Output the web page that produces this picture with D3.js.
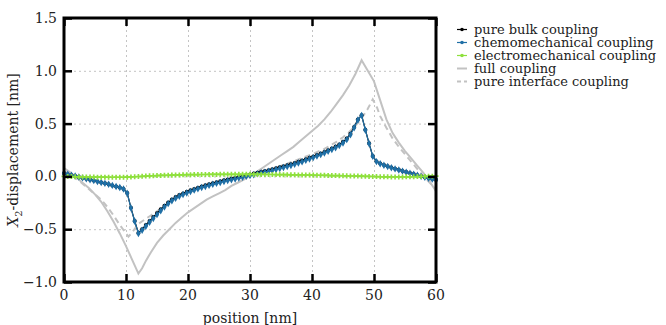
<!DOCTYPE html>
<html>
<head>
<meta charset="utf-8">
<script src="https://cdn.jsdelivr.net/npm/d3@7"></script>
<style>
  body { margin: 0; background: #fff; }
  svg { display: block; font-family: "DejaVu Serif", serif; }
</style>
</head>
<body>
<svg id="chart" width="666" height="325"></svg>
<script>
// sample positions along the line [nm]
const positions = [
  0, 0.6, 1.2, 1.8, 2.4, 3, 3.6, 4.2, 4.8, 5.4,
  6, 6.6, 7.2, 7.8, 8.4, 9, 9.6, 10.2, 10.8, 11.4,
  12, 12.6, 13.2, 13.8, 14.4, 15, 15.6, 16.2, 16.8, 17.4,
  18, 18.6, 19.2, 19.8, 20.4, 21, 21.6, 22.2, 22.8, 23.4,
  24, 24.6, 25.2, 25.8, 26.4, 27, 27.6, 28.2, 28.8, 29.4,
  30, 30.6, 31.2, 31.8, 32.4, 33, 33.6, 34.2, 34.8, 35.4,
  36, 36.6, 37.2, 37.8, 38.4, 39, 39.6, 40.2, 40.8, 41.4,
  42, 42.6, 43.2, 43.8, 44.4, 45, 45.6, 46.2, 46.8, 47.4,
  48, 48.6, 49.2, 49.8, 50.4, 51, 51.6, 52.2, 52.8, 53.4,
  54, 54.6, 55.2, 55.8, 56.4, 57, 57.6, 58.2, 58.8, 59.4,
  60
];

const pureBulk = [
  0.030, 0.021, 0.012, 0.003, -0.006, -0.014, -0.022, -0.031, -0.040, -0.048,
  -0.057, -0.066, -0.075, -0.085, -0.095, -0.106, -0.120, -0.158, -0.298, -0.422,
  -0.535, -0.500, -0.460, -0.422, -0.385, -0.348, -0.312, -0.278, -0.247, -0.219,
  -0.196, -0.177, -0.161, -0.146, -0.132, -0.119, -0.107, -0.095, -0.084, -0.074,
  -0.064, -0.055, -0.046, -0.037, -0.029, -0.021, -0.013, -0.005, 0.003, 0.011,
  0.019, 0.027, 0.035, 0.043, 0.051, 0.059, 0.068, 0.077, 0.086, 0.095,
  0.105, 0.115, 0.126, 0.138, 0.150, 0.163, 0.176, 0.189, 0.203, 0.217,
  0.232, 0.248, 0.265, 0.283, 0.303, 0.327, 0.358, 0.404, 0.468, 0.540,
  0.580, 0.442, 0.313, 0.192, 0.142, 0.122, 0.107, 0.095, 0.084, 0.073,
  0.062, 0.052, 0.042, 0.032, 0.022, 0.012, 0.002, -0.007, -0.016, -0.024,
  -0.032
];

const chemomechanical = [
  0.030, 0.021, 0.012, 0.003, -0.006, -0.014, -0.022, -0.031, -0.040, -0.048,
  -0.057, -0.066, -0.075, -0.085, -0.095, -0.106, -0.120, -0.160, -0.300, -0.425,
  -0.540, -0.510, -0.472, -0.435, -0.398, -0.362, -0.325, -0.290, -0.258, -0.230,
  -0.207, -0.188, -0.172, -0.157, -0.143, -0.130, -0.118, -0.106, -0.095, -0.085,
  -0.075, -0.066, -0.057, -0.048, -0.040, -0.032, -0.024, -0.016, -0.008, 0.000,
  0.008, 0.016, 0.024, 0.032, 0.040, 0.048, 0.057, 0.066, 0.075, 0.084,
  0.094, 0.104, 0.115, 0.127, 0.139, 0.152, 0.165, 0.178, 0.192, 0.206,
  0.221, 0.237, 0.254, 0.272, 0.292, 0.316, 0.348, 0.395, 0.460, 0.535,
  0.578, 0.440, 0.312, 0.190, 0.140, 0.120, 0.105, 0.093, 0.082, 0.071,
  0.060, 0.050, 0.040, 0.030, 0.020, 0.010, 0.000, -0.009, -0.018, -0.026,
  -0.034
];

const electromechanical = [
  0.000, -0.001, -0.002, -0.003, -0.004, -0.005, -0.005, -0.006, -0.006, -0.007,
  -0.007, -0.007, -0.008, -0.008, -0.008, -0.008, -0.008, -0.007, -0.005, -0.003,
  -0.001, 0.001, 0.003, 0.005, 0.006, 0.008, 0.009, 0.010, 0.011, 0.012,
  0.013, 0.014, 0.015, 0.016, 0.016, 0.017, 0.017, 0.018, 0.018, 0.019,
  0.019, 0.019, 0.020, 0.020, 0.020, 0.020, 0.020, 0.020, 0.020, 0.020,
  0.020, 0.019, 0.019, 0.019, 0.018, 0.018, 0.018, 0.017, 0.017, 0.016,
  0.016, 0.015, 0.015, 0.014, 0.014, 0.013, 0.013, 0.012, 0.011, 0.011,
  0.010, 0.009, 0.008, 0.008, 0.007, 0.006, 0.005, 0.004, 0.004, 0.003,
  0.002, 0.001, 0.000, -0.001, -0.002, -0.003, -0.004, -0.004, -0.005, -0.005,
  -0.005, -0.005, -0.004, -0.004, -0.003, -0.002, -0.001, 0.000, 0.001, 0.002,
  0.003
];

const fullX = [0, 1, 2, 3, 4, 5, 6, 7, 8, 9, 10, 11, 12, 12.6, 13.2, 14, 15, 16, 17, 18,
  19, 20, 21, 22, 23, 24, 25, 26, 27, 28, 29, 30, 31, 32, 33, 34, 35, 36, 37, 38,
  39, 40, 41, 42, 43, 44, 45, 46, 47, 48, 49, 50, 51, 52, 53, 54, 55, 56, 57, 58, 59, 60];
const fullY = [0.08, 0.04, -0.01, -0.06, -0.11, -0.17, -0.24, -0.33, -0.43, -0.54, -0.66, -0.79, -0.92, -0.87, -0.80, -0.72, -0.63, -0.56, -0.50, -0.44,
  -0.39, -0.34, -0.30, -0.26, -0.22, -0.19, -0.16, -0.13, -0.09, -0.06, -0.03, 0.01, 0.04, 0.08, 0.12, 0.16, 0.20, 0.24, 0.28, 0.33,
  0.38, 0.43, 0.48, 0.54, 0.61, 0.69, 0.77, 0.86, 0.97, 1.10, 1.00, 0.90, 0.72, 0.54, 0.41, 0.32, 0.24, 0.17, 0.10, 0.03, -0.05, -0.14];

const interfaceX = [0, 1, 2, 3, 4, 5, 6, 7, 8, 9, 10, 10.4, 11, 12, 13, 14, 15, 16, 17, 18, 19, 20,
  22, 24, 26, 28, 30, 32, 34, 36, 38, 40, 42, 44, 45, 46, 47, 48, 49, 49.8, 50.5, 51,
  52, 53, 54, 55, 56, 57, 58, 59, 60];
const interfaceY = [0.05, 0.02, -0.02, -0.07, -0.12, -0.17, -0.22, -0.29, -0.37, -0.46, -0.54, -0.57, -0.53, -0.45, -0.41, -0.37, -0.33, -0.29, -0.25, -0.21, -0.18, -0.155,
  -0.11, -0.075, -0.045, -0.015, 0.015, 0.045, 0.08, 0.12, 0.165, 0.21, 0.26, 0.33, 0.37, 0.42, 0.48, 0.55, 0.64, 0.73, 0.65, 0.57,
  0.46, 0.36, 0.28, 0.21, 0.14, 0.07, 0.0, -0.06, -0.12];

const xTicks = [0, 10, 20, 30, 40, 50, 60];
const yTicks = [-1.0, -0.5, 0.0, 0.5, 1.0, 1.5];

const legendNames = ['pure bulk coupling', 'chemomechanical coupling', 'electromechanical coupling',
  'full coupling', 'pure interface coupling'];

const margin = { left: 64, top: 18, right: 230, bottom: 43 };
const width = 666 - margin.left - margin.right;
const height = 325 - margin.top - margin.bottom;

const svg = d3.select('#chart');
const g = svg.append('g').attr('transform', `translate(${margin.left},${margin.top})`);

const x = d3.scaleLinear().domain([0, 60]).range([0, width]);
const y = d3.scaleLinear().domain([-1, 1.5]).range([height, 0]);

// dashed grid
g.append('g')
  .attr('transform', `translate(0,${height})`)
  .call(d3.axisBottom(x).tickValues(xTicks.slice(1, -1)).tickSize(-height).tickFormat(''))
  .call(a => a.select('.domain').remove())
  .selectAll('line').attr('stroke', '#c4c4c4').attr('stroke-dasharray', '2,3');
g.append('g')
  .call(d3.axisLeft(y).tickValues(yTicks.slice(1, -1)).tickSize(-width).tickFormat(''))
  .call(a => a.select('.domain').remove())
  .selectAll('line').attr('stroke', '#c4c4c4').attr('stroke-dasharray', '2,3');

const line = (xs, ys) => d3.line()
  .x((d, i) => x(xs[i]))
  .y(d => y(d))(ys);

// grey reference curves
g.append('path').attr('d', line(fullX, fullY))
  .attr('fill', 'none').attr('stroke', '#c2c2c2').attr('stroke-width', 2);
g.append('path').attr('d', line(interfaceX, interfaceY))
  .attr('fill', 'none').attr('stroke', '#c2c2c2').attr('stroke-width', 2)
  .attr('stroke-dasharray', '6,4');

// black series
g.append('path').attr('d', line(positions, pureBulk))
  .attr('fill', 'none').attr('stroke', '#000').attr('stroke-width', 1.2);
g.append('g').selectAll('circle').data(pureBulk).join('circle')
  .attr('cx', (d, i) => x(positions[i])).attr('cy', d => y(d))
  .attr('r', 2).attr('fill', '#000');

// blue series
g.append('path').attr('d', line(positions, chemomechanical))
  .attr('fill', 'none').attr('stroke', '#1f6fa6').attr('stroke-width', 1.2);
g.append('g').selectAll('path').data(chemomechanical).join('path')
  .attr('d', d3.symbol(d3.symbolDiamond, 16))
  .attr('transform', (d, i) => `translate(${x(positions[i])},${y(d)})`)
  .attr('fill', '#1f6fa6');

// green series
g.append('path').attr('d', line(positions, electromechanical))
  .attr('fill', 'none').attr('stroke', '#8ee03c').attr('stroke-width', 1.2);
g.append('g').selectAll('path').data(electromechanical).join('path')
  .attr('d', d3.symbol(d3.symbolCross, 14))
  .attr('transform', (d, i) => `translate(${x(positions[i])},${y(d)})`)
  .attr('fill', '#8ee03c');

// inward tick marks on all four sides
const tickLen = 8;
g.append('g').attr('transform', `translate(0,${height})`)
  .call(d3.axisBottom(x).tickValues(xTicks).tickSize(-tickLen).tickFormat(''))
  .call(a => a.select('.domain').remove());
g.append('g')
  .call(d3.axisTop(x).tickValues(xTicks).tickSize(-tickLen).tickFormat(''))
  .call(a => a.select('.domain').remove());
g.append('g')
  .call(d3.axisLeft(y).tickValues(yTicks).tickSize(-tickLen).tickFormat(''))
  .call(a => a.select('.domain').remove());
g.append('g').attr('transform', `translate(${width},0)`)
  .call(d3.axisRight(y).tickValues(yTicks).tickSize(-tickLen).tickFormat(''))
  .call(a => a.select('.domain').remove());
g.selectAll('.tick line').filter(function () { return !this.getAttribute('stroke-dasharray'); })
  .attr('stroke', '#000').attr('stroke-width', 2.5);

// frame
g.append('rect').attr('width', width).attr('height', height)
  .attr('fill', 'none').attr('stroke', '#000').attr('stroke-width', 3);

// tick labels
g.append('g').selectAll('text').data(xTicks).join('text')
  .attr('x', d => x(d)).attr('y', height + 18)
  .attr('text-anchor', 'middle').attr('font-size', 14).attr('fill', '#222')
  .text(d => d);
g.append('g').selectAll('text').data(yTicks).join('text')
  .attr('x', -7).attr('y', d => y(d) + 5)
  .attr('text-anchor', 'end').attr('font-size', 14).attr('fill', '#222')
  .text(d => d3.format('.1f')(d));

// axis titles
g.append('text').attr('x', width / 2).attr('y', height + 41)
  .attr('text-anchor', 'middle').attr('font-size', 14).attr('fill', '#222')
  .text('position [nm]');
const yl = g.append('text')
  .attr('transform', `translate(-46,${height / 2}) rotate(-90)`)
  .attr('text-anchor', 'middle').attr('font-size', 14).attr('fill', '#222');
yl.append('tspan').attr('font-style', 'italic').text('X');
yl.append('tspan').attr('font-size', 10).attr('dy', 4).text('2');
yl.append('tspan').attr('dy', -4).text('-displacement [nm]');

// legend
const legendColors = ['#000', '#1f6fa6', '#8ee03c', '#c2c2c2', '#c2c2c2'];
const lg = svg.append('g').attr('transform', 'translate(457,29.5)');
const rows = lg.selectAll('g').data(legendNames).join('g')
  .attr('transform', (d, i) => `translate(0,${i * 13})`);
rows.append('line').attr('x1', 0).attr('x2', 10)
  .attr('stroke', (d, i) => legendColors[i])
  .attr('stroke-width', (d, i) => i > 2 ? 2 : 1.2)
  .attr('stroke-dasharray', (d, i) => i === 4 ? '4,3' : null);
rows.filter((d, i) => i < 3).append('circle')
  .attr('cx', 5).attr('r', 1.8).attr('fill', (d, i) => legendColors[i]);
rows.append('text').attr('x', 17).attr('y', 4.5)
  .attr('font-size', 13).attr('fill', '#222').text(d => d);
</script>
</body>
</html>
